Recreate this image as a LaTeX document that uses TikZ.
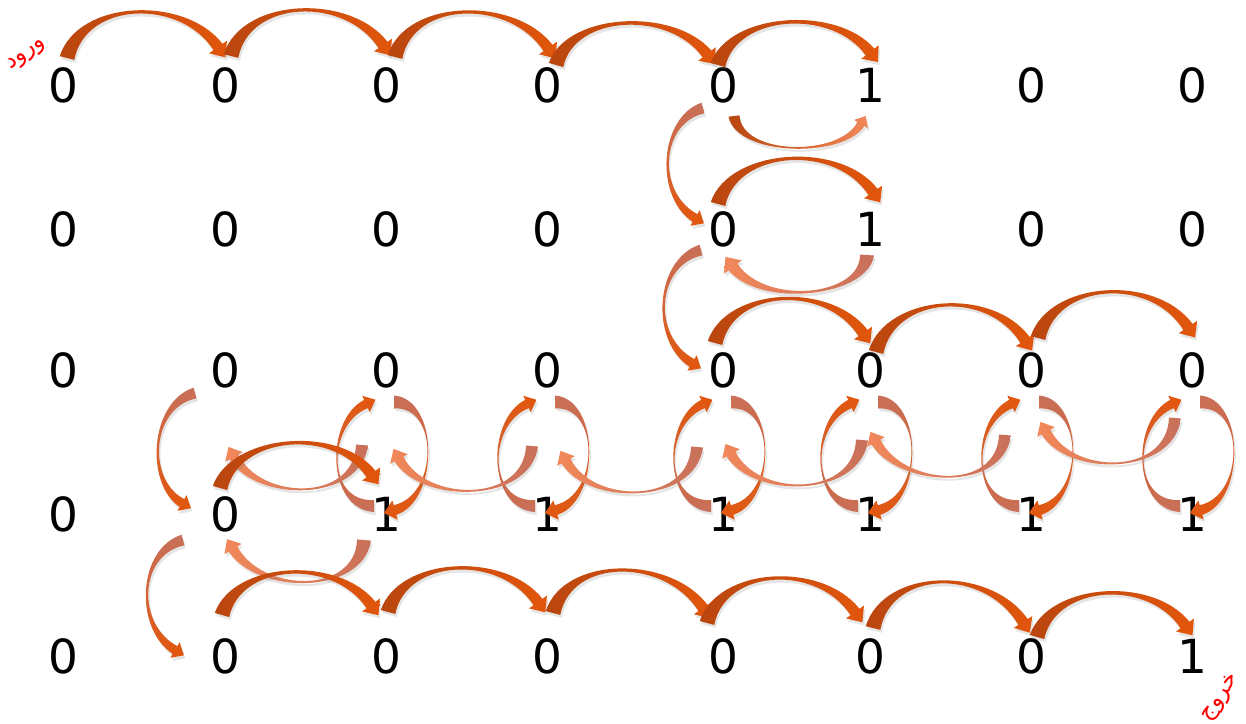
\documentclass[tikz,border=0pt]{standalone}
\usepackage{fontspec}
\setmainfont{DejaVu Sans}
\newfontfamily\arabicfont[Script=Arabic]{DejaVu Sans}
\TeXXeTstate=1
\usetikzlibrary{calc,shadows}
\definecolor{rust}{HTML}{B9460F}
\definecolor{hilite}{HTML}{F29C7A}
\definecolor{orng}{HTML}{E2560C}
\definecolor{salmon}{HTML}{C8705A}
\definecolor{peach}{HTML}{F2885A}
\tikzset{
 ribbon/.style={drop shadow={opacity=0.2,shadow xshift=1.5pt,shadow yshift=-3pt}},
 ovr/.style={left color=rust,middle color=hilite,right color=orng},
 tb/.style={top color=salmon,middle color=orng!75!salmon,bottom color=orng},
 bt/.style={top color=orng,middle color=orng!75!salmon,bottom color=salmon},
 rl/.style={left color=peach,middle color=rust,right color=salmon},
 lrb/.style={left color=rust,middle color=rust!70!orng,right color=peach},
 digit/.style={inner sep=0pt,font=\fontsize{47}{47}\selectfont},
 lbl/.style={text=red,inner sep=0pt,font=\arabicfont\fontsize{23}{23}\selectfont}
}
% #2 start node, #3 start offset, #4 ctrl1 offset (from start), #5 ctrl2 offset (from end),
% #6 end node, #7 end offset, #8 half width at start, #9 half width at end
\newcommand\rib[9][]{%
  \path ($(#2)+(#3)$) coordinate (rA);
  \path ($(rA)+(#4)$) coordinate (rC1);
  \path ($(#6)+(#7)$) coordinate (rB);
  \path ($(rB)+(#5)$) coordinate (rC2);
  \pgfmathsetlengthmacro\rhw{2.0*#9}%
  \pgfmathsetlengthmacro\rhl{2.3*#9}%
  \path ($(rA)!#8!90:(rC1)$) coordinate (rA1)
        ($(rA)!#8!-90:(rC1)$) coordinate (rA2)
        ($(rB)!#9!-90:(rC2)$) coordinate (rB1)
        ($(rB)!#9!90:(rC2)$) coordinate (rB2)
        ($(rB)!\rhw!-90:(rC2)$) coordinate (rH1)
        ($(rB)!\rhw!90:(rC2)$) coordinate (rH2)
        ($(rB)!\rhl!180:(rC2)$) coordinate (rT);
  \path ($(rC1)+0.5*(rA1)-0.5*(rA)$) coordinate (rC1a)
        ($(rC1)+0.5*(rA2)-0.5*(rA)$) coordinate (rC1b)
        ($(rC2)+0.5*(rB1)-0.5*(rB)$) coordinate (rC2a)
        ($(rC2)+0.5*(rB2)-0.5*(rB)$) coordinate (rC2b);
  \path[ribbon,#1] (rA1) .. controls (rC1a) and (rC2a) .. (rB1) -- (rH1) -- (rT) -- (rH2) -- (rB2) .. controls (rC2b) and (rC1b) .. (rA2) -- cycle;
}
\begin{document}
\begin{tikzpicture}[x=1pt,y=-1pt]
\useasboundingbox (0,0) rectangle (1246,723);
\fill[white] (0,0) rectangle (1246,723);
% digits
\foreach \r/\y in {1/85,2/229,3/370,4/514,5/656}
 \foreach \c/\x in {1/63,2/225,3/386,4/547,5/723,6/870,7/1031,8/1192}{
   \pgfmathtruncatemacro\v{(\c==6)*(\r<=2)+(\r==4)*(\c>=3)+(\r==5)*(\c==8)}
   \node[digit] (d\r\c) at (\x,\y) {\v};
 }
% labels
\node[lbl,rotate=35] (entry) at (27,55) {\beginR ورود\endR};
\node[lbl,rotate=55] (exit) at (1221,698) {\beginR خروج\endR};
% row 1
\rib[ovr]{d11}{4,-27}{15,-58}{-35,-50}{d12}{-7,-38}{7.5pt}{5.5pt}
\rib[ovr]{d12}{6,-29}{15,-58}{-35,-50}{d13}{-3,-40}{7.5pt}{5.5pt}
\rib[ovr]{d13}{9,-28}{15,-58}{-35,-50}{d14}{1,-37}{7.5pt}{5.5pt}
\rib[ovr]{d14}{9,-20}{15,-52}{-35,-45}{d15}{-16,-31}{7.5pt}{5.5pt}
\rib[ovr]{d15}{-5,-20}{15,-52}{-35,-45}{d16}{0,-33}{7.5pt}{5.5pt}
% rows 1-2
\rib[tb]{d15}{-20,23}{-43,12}{-40,-24}{d25}{-28,-11}{5.5pt}{4.5pt}
\rib[lrb]{d15}{11,31}{5,40}{-20,34}{d16}{-9,39}{5.5pt}{4pt}
\rib[ovr]{d25}{-5,-25}{15,-55}{-35,-50}{d26}{3,-37}{7.5pt}{5.5pt}
% rows 2-3
\rib[tb]{d25}{-22,21}{-45,12}{-42,-25}{d35}{-31,-7}{5.5pt}{4.5pt}
\rib[rl]{d26}{-3,26}{-3,42}{30,40}{d25}{10,38}{7pt}{5.5pt}
\rib[ovr]{d35}{-8,-27}{15,-55}{-35,-50}{d36}{-7,-37}{7.5pt}{5.5pt}
\rib[ovr]{d36}{6,-18}{15,-57}{-35,-52}{d37}{-6,-30}{7.5pt}{5.5pt}
\rib[ovr]{d37}{7,-32}{15,-56}{-35,-52}{d38}{-4,-43}{7.5pt}{5.5pt}
% rows 3-4 : loops
\foreach \k in {3,...,8}{
  \rib[bt]{d4\k}{-12,-8}{-48,0}{-40,18}{d3\k}{-20,34}{6pt}{4.5pt}
  \rib[tb]{d3\k}{8,32}{45,0}{44,-12}{d4\k}{9,-4}{6.5pt}{5pt}
}
\rib[rl]{d43}{-24,-69}{-5,58}{24,44}{d42}{9,-57}{6pt}{5pt}
\rib[rl]{d44}{-15,-68}{-5,58}{24,44}{d43}{13,-55}{6pt}{5pt}
\rib[rl]{d45}{-26,-67}{-5,58}{24,44}{d44}{19,-53}{6pt}{5pt}
\rib[rl]{d46}{-8,-74}{-5,58}{24,44}{d45}{8,-60}{6pt}{5pt}
\rib[rl]{d47}{-26,-79}{-5,58}{24,44}{d46}{6,-72}{6pt}{5pt}
\rib[rl]{d48}{-17,-96}{-5,58}{24,44}{d47}{15,-82}{6pt}{5pt}
\rib[ovr]{d42}{-5,-26}{15,-53}{-35,-48}{d43}{-15,-40}{7.5pt}{5.5pt}
\rib[tb]{d32}{-30,23}{-45,12}{-36,-21}{d42}{-43,-11}{5.5pt}{4.5pt}
% rows 4-5
\rib[tb]{d42}{-42,26}{-45,12}{-40,-24}{d52}{-50,-6}{5.5pt}{4.5pt}
\rib[rl]{d43}{-22,26}{-5,55}{27,45}{d42}{8,35}{7pt}{5pt}
\rib[ovr]{d52}{-3,-41}{15,-53}{-35,-48}{d53}{-15,-51}{7.5pt}{5.5pt}
\rib[ovr]{d53}{2,-44}{15,-55}{-35,-49}{d54}{-9,-54}{7.5pt}{5.5pt}
\rib[ovr]{d54}{6,-43}{15,-57}{-35,-51}{d55}{-20,-48}{7.5pt}{5.5pt}
\rib[ovr]{d55}{-16,-33}{15,-56}{-35,-49}{d56}{-15,-44}{7.5pt}{5.5pt}
\rib[ovr]{d56}{3,-28}{15,-60}{-35,-55}{d57}{-8,-34}{7.5pt}{5.5pt}
\rib[ovr]{d57}{6,-19}{15,-53}{-35,-48}{d58}{-7,-31}{7.5pt}{5.5pt}
\end{tikzpicture}
\end{document}
